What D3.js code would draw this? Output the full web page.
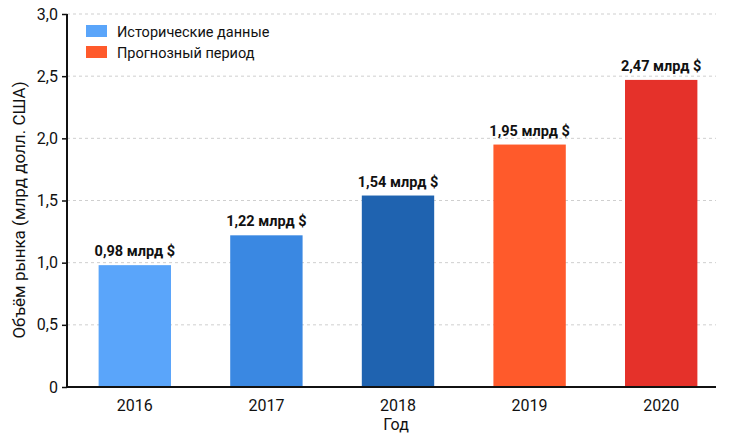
<!DOCTYPE html>
<html><head><meta charset="utf-8">
<script src="https://cdn.jsdelivr.net/npm/d3@7"></script>
<style>
html,body{margin:0;padding:0;background:#fff;}
text{font-family:Roboto,"Noto Sans",sans-serif;fill:#111;}
</style></head>
<body><svg id="c" width="731" height="440"></svg>
<script>
const years = ["2016","2017","2018","2019","2020"];
const values = [0.98, 1.22, 1.54, 1.95, 2.47];
const valueLabels = ["0,98 млрд $","1,22 млрд $","1,54 млрд $","1,95 млрд $","2,47 млрд $"];
const barColors = ["#5aa5fa","#3a88e2","#1f63b0","#ff5a2b","#e5312a"];
const yTicks = [0,0.5,1,1.5,2,2.5,3];
const yTickLabels = ["0","0,5","1,0","1,5","2,0","2,5","3,0"];
const legendLabels = ["Исторические данные","Прогнозный период"];
const legendColors = ["#5aa5fa","#ff5a2b"];
const xTitle = "Год";
const yTitle = "Объём рынка (млрд долл. США)";

const svg = d3.select("#c");
const left = 67, right = 716;
const x = d3.scaleBand().domain(years).range([69, 727]).paddingInner(0.45).paddingOuter(0.225);
const y = d3.scaleLinear().domain([0,3]).range([387, 14]);

// gridlines
svg.append("g").selectAll("line").data(yTicks.filter(d=>d>0)).join("line")
  .attr("x1", left).attr("x2", right)
  .attr("y1", d=>y(d)).attr("y2", d=>y(d))
  .attr("stroke", "#cfcfcf").attr("stroke-width", 1).attr("stroke-dasharray", "3,3");

// bars
svg.append("g").selectAll("rect").data(years).join("rect")
  .attr("x", d=>x(d)).attr("width", x.bandwidth())
  .attr("y", (d,i)=>y(values[i])).attr("height", (d,i)=>y(0)-y(values[i]))
  .attr("fill", (d,i)=>barColors[i]);

// value labels
svg.append("g").selectAll("text").data(years).join("text")
  .attr("x", d=>x(d)+x.bandwidth()/2).attr("y", (d,i)=>y(values[i])-9)
  .attr("text-anchor","middle").attr("font-size", 14.5).attr("font-weight", "bold")
  .text((d,i)=>valueLabels[i]);

// y axis
const yAxis = d3.axisLeft(y).tickValues(yTicks).tickFormat((d,i)=>yTickLabels[i]).tickSize(5).tickSizeOuter(0);
const gy = svg.append("g").attr("transform", `translate(${left},0)`).call(yAxis);
gy.select(".domain").attr("stroke","#111").attr("stroke-width",2).attr("d", `M0,${y(3)}V${y(0)}`);
gy.selectAll(".tick line").attr("stroke","#111").attr("stroke-width",1.5);
gy.selectAll(".tick text").attr("font-size",16).attr("fill","#111").attr("x",-9).style("font-family","Roboto");

// x axis
const xAxis = d3.axisBottom(x).tickSize(0).tickSizeOuter(0);
const gx = svg.append("g").attr("transform", `translate(0,${y(0)})`).call(xAxis);
gx.select(".domain").attr("stroke","#111").attr("stroke-width",2).attr("d", `M${left},0H${right}`);
gx.selectAll(".tick text").attr("font-size",16).attr("fill","#111").attr("dy","0").attr("y",24).style("font-family","Roboto");

// axis titles
svg.append("text").attr("x", 396).attr("y", 430).attr("text-anchor","middle").attr("font-size",16).text(xTitle);
svg.append("text").attr("transform","translate(25,210) rotate(-90)").attr("text-anchor","middle").attr("font-size",17).text(yTitle);

// legend
const lg = svg.append("g");
legendLabels.forEach((t,i)=>{
  lg.append("rect").attr("x",86).attr("y",25+i*21).attr("width",21).attr("height",12).attr("fill",legendColors[i]);
  lg.append("text").attr("x",117).attr("y",36.5+i*21).attr("font-size",14.5).text(t);
});
</script></body></html>
